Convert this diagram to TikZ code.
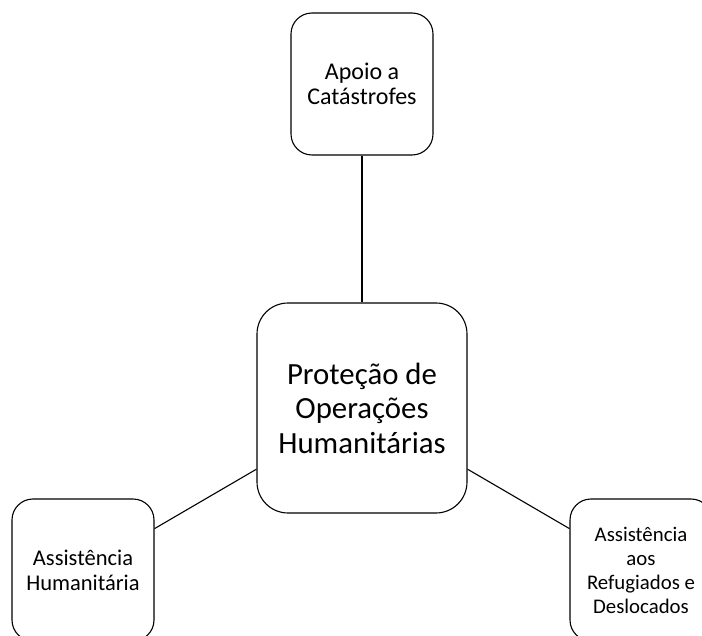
\documentclass[tikz,border=0pt]{standalone}
\usepackage{fontspec}
\setmainfont{Carlito}
\usepackage{tikz}
\usetikzlibrary{positioning}
\tikzstyle{topic}=[draw,fill=white,rounded corners=21pt,minimum width=142pt,minimum height=142pt,inner sep=0pt,align=center,font=\fontsize{22.5}{25}\selectfont]
\tikzstyle{hub}=[topic,rounded corners=31pt,minimum width=210pt,minimum height=210pt,font=\fontsize{30.8}{34.5}\selectfont]

\begin{document}
\begin{tikzpicture}[x=1pt,y=-1pt,line width=1.1pt]
\useasboundingbox (0,0) rectangle (702,636);
\clip (0,0) rectangle (702,636);
\node [hub] (hub) at (362,408) {Proteção de\\Operações\\Humanitárias};
\node [topic,font=\fontsize{24}{25}\selectfont] (apoio) at (362,84) {Apoio a\\Catástrofes};
\node [topic] (assist) at (83,570) {Assistência\\Humanitária};
\node [topic,font=\fontsize{20.8}{24}\selectfont] (refug) at (641,570) {Assistência\\aos\\Refugiados e\\Deslocados};
\draw (apoio) -- (hub);
\draw (hub) -- (assist);
\draw (hub) -- (refug);
\end{tikzpicture}
\end{document}
